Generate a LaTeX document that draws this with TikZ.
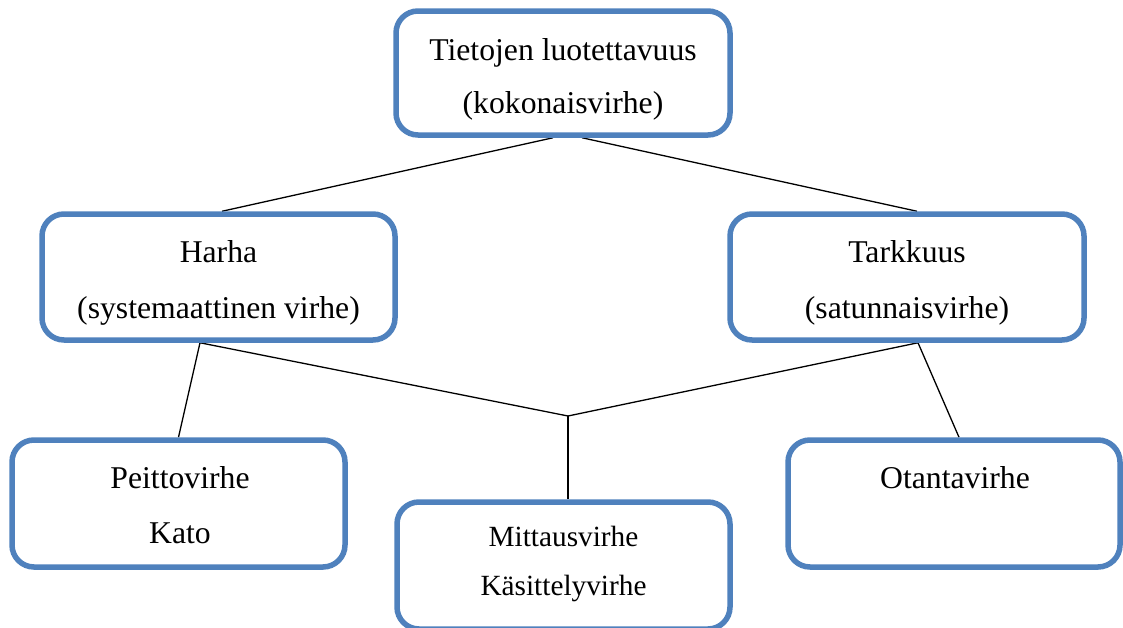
\documentclass[tikz,border=0pt]{standalone}
\usepackage{fontspec}
\setmainfont{Liberation Serif}
\usetikzlibrary{calc}
\pgfdeclarelayer{background}
\pgfsetlayers{background,main}
\definecolor{boxblue}{HTML}{4F81BD}
\begin{document}
\begin{tikzpicture}[x=1pt,y=-1pt,
  box/.style={draw=boxblue, line width=5.5pt, rounded corners=22pt, fill=white,
    inner sep=0pt, minimum width=#1},
  box/.default=333pt,
  lbl/.style={anchor=base, inner sep=0pt, font=\fontsize{31.7}{38}\selectfont},
  slbl/.style={anchor=base, inner sep=0pt, font=\fontsize{29.3}{35}\selectfont},
  conn/.style={draw=black, line width=1.3pt}]
\useasboundingbox (0,0) rectangle (1123,627);
% boxes
\node[box=334pt, minimum height=124pt] (top) at (563,73) {};
\node[box=353pt, minimum height=126pt] (harha) at (218.5,277) {};
\node[box=354pt, minimum height=126pt] (tark) at (907,277) {};
\node[box=333pt, minimum height=127pt] (peitto) at (178.5,503.5) {};
\node[box=333pt, minimum height=127pt] (mitt) at (563.5,565.5) {};
\node[box=332pt, minimum height=127pt] (otanta) at (954,503.5) {};
% texts
\node[lbl] (t1) at (563,60) {Tietojen luotettavuus};
\node[lbl] (t2) at (563,113) {(kokonaisvirhe)};
\node[lbl] (h1) at (218.5,262) {Harha};
\node[lbl] (h2) at (218.5,318) {(systemaattinen virhe)};
\node[lbl] (k1) at (907,262) {Tarkkuus};
\node[lbl] (k2) at (907,318) {(satunnaisvirhe)};
\node[lbl] (p1) at (180,488) {Peittovirhe};
\node[lbl] (p2) at (180,543) {Kato};
\node[slbl] (m1) at (563.5,546) {Mittausvirhe};
\node[slbl] (m2) at (563.5,595) {Käsittelyvirhe};
\node[lbl] (o1) at (955,488) {Otantavirhe};
% connectors
\coordinate (junc) at (568,416);
\begin{pgfonlayer}{background}
\draw[conn] ($(top.south)+(-10,0)$) -- ($(harha.north)+(3.5,0)$);
\draw[conn] ($(top.south)+(19,0)$) -- ($(tark.north)+(10,0)$);
\draw[conn] ($(peitto.north)$) -- ($(harha.south)+(-18.5,0)$) -- (junc)
  -- ($(tark.south)+(11,0)$) -- ($(otanta.north)+(5,0)$);
\draw[conn] (junc) -- ($(mitt.north)+(4.5,0)$);
\end{pgfonlayer}
\end{tikzpicture}
\end{document}
